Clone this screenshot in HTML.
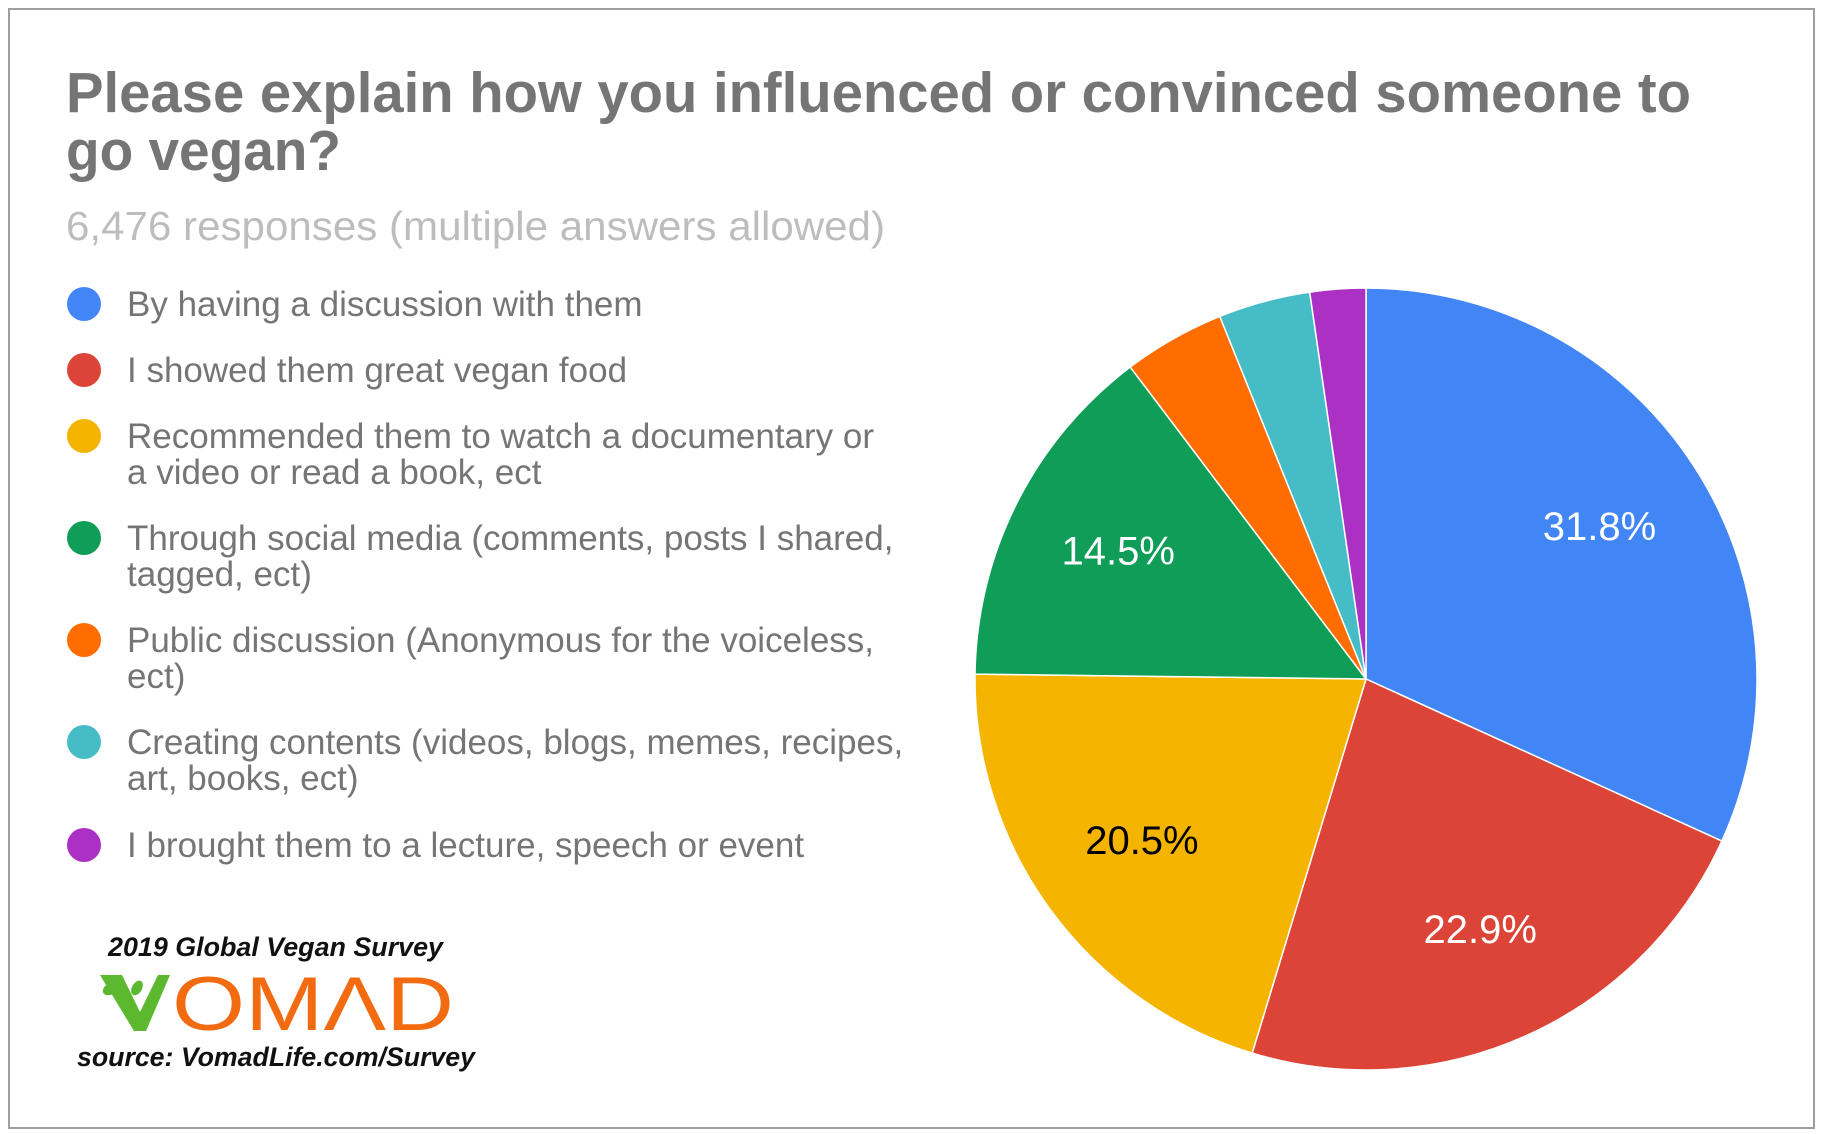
<!DOCTYPE html>
<html><head><meta charset="utf-8">
<style>
html,body{margin:0;padding:0;background:#fff;}
svg{display:block;font-family:"Liberation Sans",sans-serif;}
</style></head>
<body>
<svg id="chart" width="1822" height="1134" viewBox="0 0 1822 1134">
<rect x="9" y="9" width="1805" height="1119" fill="#fff" stroke="#9e9e9e" stroke-width="2"/>
<text x="66" y="112" font-size="57" font-weight="bold" fill="#757575" textLength="1625" lengthAdjust="spacingAndGlyphs">Please explain how you influenced or convinced someone to</text>
<text x="66" y="170" font-size="57" font-weight="bold" fill="#757575" textLength="275" lengthAdjust="spacingAndGlyphs">go vegan?</text>
<text x="66" y="240" font-size="41" fill="#bdbdbd" textLength="819" lengthAdjust="spacingAndGlyphs">6,476 responses (multiple answers allowed)</text>
<g id="legend"></g>
<g id="pie"></g>
<g id="labels"></g>
<g>
<text x="108" y="956" font-size="27" font-weight="bold" font-style="italic" fill="#111" textLength="335" lengthAdjust="spacingAndGlyphs">2019 Global Vegan Survey</text>
<text x="172" y="1030" font-size="76" fill="#f26b10" textLength="282" lengthAdjust="spacingAndGlyphs">OMΛD</text>
<path d="M100 975 L122 975 L140 1012 L158 975 L170 975 L146 1031 L134 1031 Z" fill="#5cb82e"/>
<ellipse cx="112" cy="988" rx="10" ry="6" fill="#5cb82e" transform="rotate(-30 112 988)"/>
<ellipse cx="137" cy="988" rx="8" ry="5" fill="#5cb82e" transform="rotate(-60 137 988)"/>
<text x="77" y="1066" font-size="27" font-weight="bold" font-style="italic" fill="#111" textLength="398" lengthAdjust="spacingAndGlyphs">source: VomadLife.com/Survey</text>
</g>
</svg>
<script>
const categories = ["By having a discussion with them","I showed them great vegan food","Recommended them to watch a documentary or|a video or read a book, ect","Through social media (comments, posts I shared,|tagged, ect)","Public discussion (Anonymous for the voiceless,|ect)","Creating contents (videos, blogs, memes, recipes,|art, books, ect)","I brought them to a lecture, speech or event"];
const values = [31.8, 22.9, 20.5, 14.5, 4.2, 3.8, 2.3];
const colors = ["#4285f4","#db4437","#f4b400","#0f9d58","#ff6d01","#46bdc6","#ab30c4"];
const labelColors = ["#fff","#fff","#000","#fff","#fff","#fff","#fff"];
const legendY = [304, 370, 436, 538, 640, 742, 845];
const NS = "http://www.w3.org/2000/svg";
const cx = 1366, cy = 679, R = 391;
const total = values.reduce((a,b)=>a+b,0);
function angle(v){ return v/total*2*Math.PI; }
function pt(a,r){ return [cx + r*Math.sin(a), cy - r*Math.cos(a)]; }
const pie = document.getElementById('pie');
const labels = document.getElementById('labels');
let acc = 0;
values.forEach((v,i)=>{
  const a0 = angle(acc), a1 = angle(acc+v);
  const p0 = pt(a0,R), p1 = pt(a1,R);
  const large = (a1-a0) > Math.PI ? 1 : 0;
  const path = document.createElementNS(NS,'path');
  path.setAttribute('d',`M${cx} ${cy} L${p0[0]} ${p0[1]} A${R} ${R} 0 ${large} 1 ${p1[0]} ${p1[1]} Z`);
  path.setAttribute('fill',colors[i]);
  path.setAttribute('stroke','#fff');
  path.setAttribute('stroke-width','1.5');
  
  
  pie.appendChild(path);
  if (v >= 10) {
    const m = pt((a0+a1)/2, R*0.71);
    const t = document.createElementNS(NS,'text');
    t.setAttribute('x',m[0]); t.setAttribute('y',m[1]+11);
    t.setAttribute('text-anchor','middle');
    t.setAttribute('font-size','40');
    t.setAttribute('fill',labelColors[i]);
    t.textContent = v.toFixed(1)+'%';
    
    
    labels.appendChild(t);
  }
  acc += v;
});
const legend = document.getElementById('legend');
categories.forEach((c,i)=>{
  const g = document.createElementNS(NS,'g');
  
  
  const circ = document.createElementNS(NS,'circle');
  circ.setAttribute('cx',84); circ.setAttribute('cy',legendY[i]); circ.setAttribute('r',17);
  circ.setAttribute('fill',colors[i]);
  
  
  g.appendChild(circ);
  c.split('|').forEach((line,j)=>{
    const t = document.createElementNS(NS,'text');
    t.setAttribute('x',127); t.setAttribute('y',legendY[i]+12+j*36);
    t.setAttribute('font-size','35'); t.setAttribute('fill','#757575');
    t.textContent = line;
    
    
    g.appendChild(t);
  });
  legend.appendChild(g);
});
</script>
</body></html>
